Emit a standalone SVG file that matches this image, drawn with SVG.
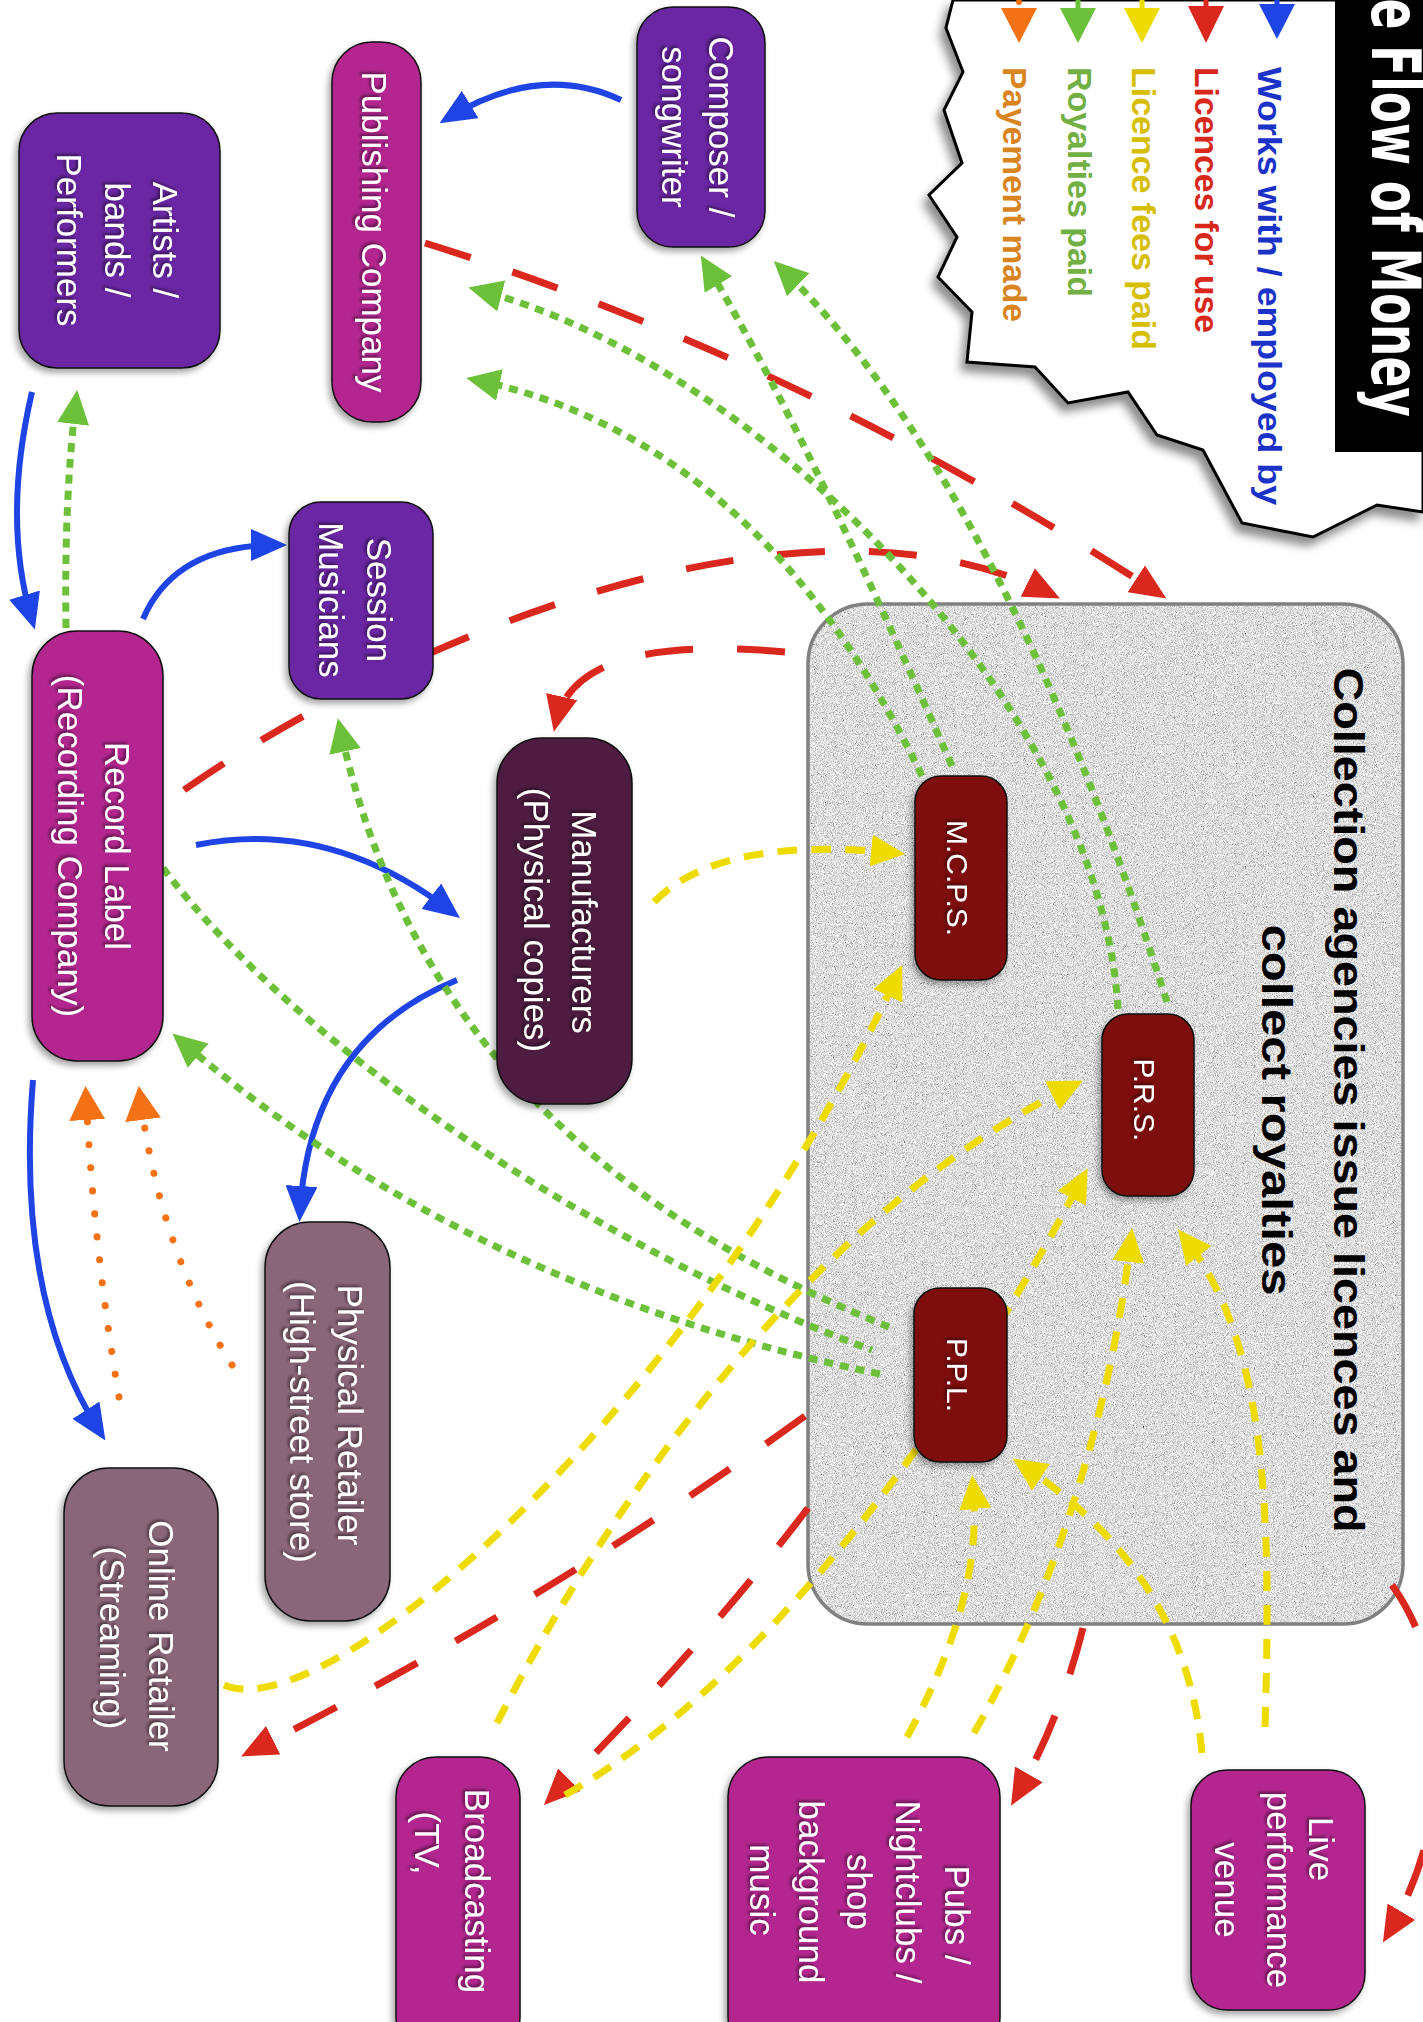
<svg xmlns="http://www.w3.org/2000/svg" width="1423" height="2022" viewBox="0 0 1423 2022">
<style>
.node{stroke:#111;stroke-width:1.5;filter:url(#shadow)}
.purple{fill:#6A27A3}.magenta{fill:#B3278F}.plum{fill:#4E1D41}.mauve{fill:#8A6679}.agency{fill:#7E0D0E}
.nt{font-family:"Liberation Sans",Arial,sans-serif;font-size:35px;fill:#fff;text-anchor:middle;filter:url(#tshadow)}
.at{font-size:30px}
.lg{font-family:"Liberation Sans",Arial,sans-serif;font-weight:bold;font-size:33px}
.c{fill:none}
.blue{stroke:#1E44E6;stroke-width:6}
.red{stroke:#DA281E;stroke-width:7;stroke-dasharray:48 44}
.green{stroke:#6DC13A;stroke-width:7;stroke-dasharray:9 7}
.yellow{stroke:#EEDC00;stroke-width:7;stroke-dasharray:20 14}
.orange{stroke:#F47215;stroke-width:7;stroke-linecap:round;stroke-dasharray:0.1 23}
</style>
<defs>
<filter id="shadow" x="-20%" y="-20%" width="140%" height="140%">
<feDropShadow dx="-3" dy="4" stdDeviation="3" flood-color="#000" flood-opacity="0.35"/>
</filter>
<filter id="tshadow" x="-20%" y="-40%" width="140%" height="180%">
<feDropShadow dx="-2" dy="2" stdDeviation="1.5" flood-color="#000" flood-opacity="0.5"/>
</filter>
<filter id="lshadow" x="-10%" y="-10%" width="120%" height="130%">
<feDropShadow dx="-5" dy="8" stdDeviation="5" flood-color="#000" flood-opacity="0.45"/>
</filter>
<filter id="noise" filterUnits="objectBoundingBox" x="0" y="0" width="1" height="1">
<feTurbulence type="fractalNoise" baseFrequency="1.1" numOctaves="2" seed="5" result="n"/>
<feColorMatrix in="n" type="matrix" values="0.33 0.33 0.33 0 0 0.33 0.33 0.33 0 0 0.33 0.33 0.33 0 0 0 0 0 0 1" result="g"/>
<feComponentTransfer in="g" result="c">
<feFuncR type="linear" slope="2.6" intercept="-0.55"/>
<feFuncG type="linear" slope="2.6" intercept="-0.55"/>
<feFuncB type="linear" slope="2.6" intercept="-0.55"/>
</feComponentTransfer>
<feComposite in="c" in2="SourceAlpha" operator="in"/>
</filter>
<marker id="mb" viewBox="0 0 36 32" markerWidth="36" markerHeight="32" refX="26" refY="16" orient="auto" markerUnits="userSpaceOnUse"><path d="M0,0 L36,16 L0,32 z" fill="#1E44E6"/></marker>
<marker id="mr" viewBox="0 0 36 32" markerWidth="36" markerHeight="32" refX="26" refY="16" orient="auto" markerUnits="userSpaceOnUse"><path d="M0,0 L36,16 L0,32 z" fill="#DA281E"/></marker>
<marker id="mg" viewBox="0 0 34 32" markerWidth="34" markerHeight="32" refX="24" refY="16" orient="auto" markerUnits="userSpaceOnUse"><path d="M0,0 L34,16 L0,32 z" fill="#6DC13A"/></marker>
<marker id="my" viewBox="0 0 34 32" markerWidth="34" markerHeight="32" refX="24" refY="16" orient="auto" markerUnits="userSpaceOnUse"><path d="M0,0 L34,16 L0,32 z" fill="#EEDC00"/></marker>
<marker id="mo" viewBox="0 0 34 36" markerWidth="34" markerHeight="36" refX="24" refY="18" orient="auto" markerUnits="userSpaceOnUse"><path d="M0,0 L34,18 L0,36 z" fill="#F47215"/></marker>
</defs>
<rect width="1423" height="2022" fill="#fff"/>

<g id="legend">
<polygon points="953,0 946,28 963,72 944,110 962,163 929,195 957,237 938,277 972,312 967,362 1035,367 1068,403 1128,392 1157,435 1203,450 1242,523 1313,537 1377,505 1423,512 1423,0" fill="#fff" stroke="#000" stroke-width="3" stroke-linejoin="miter" filter="url(#lshadow)"/>
<rect x="1335" y="0" width="88" height="452" fill="#000"/>
<text transform="translate(1372,417) rotate(90)" text-anchor="end" font-family="'DejaVu Sans Condensed','DejaVu Sans',sans-serif" font-weight="bold" font-size="68" fill="#fff" textLength="482" lengthAdjust="spacingAndGlyphs">The Flow of Money</text>
<g>
<line x1="1277" y1="0" x2="1277" y2="8" stroke="#1E44E6" stroke-width="5"/><polygon points="1259,4 1295,4 1277,39" fill="#1E44E6"/>
<line x1="1206" y1="0" x2="1206" y2="8" stroke="#DA281E" stroke-width="5"/><polygon points="1188,6 1224,6 1206,43" fill="#DA281E"/>
<line x1="1142" y1="0" x2="1142" y2="8" stroke="#EEDC00" stroke-width="5"/><polygon points="1124,8 1160,8 1142,43" fill="#EEDC00"/>
<line x1="1078" y1="0" x2="1078" y2="8" stroke="#6DC13A" stroke-width="5"/><polygon points="1060,8 1096,8 1078,43" fill="#6DC13A"/>
<circle cx="1019" cy="2" r="3" fill="#F47215"/><polygon points="1001,8 1037,8 1019,43" fill="#F47215"/>
</g>
<text class="lg" transform="translate(1258,67) rotate(90)" fill="#1A32C8" textLength="438" lengthAdjust="spacingAndGlyphs">Works with / employed by</text>
<text class="lg" transform="translate(1195,67) rotate(90)" fill="#D8281C" textLength="266" lengthAdjust="spacingAndGlyphs">Licences for use</text>
<text class="lg" transform="translate(1132,67) rotate(90)" fill="#D6BE00" textLength="283" lengthAdjust="spacingAndGlyphs">Licence fees paid</text>
<text class="lg" transform="translate(1068,67) rotate(90)" fill="#72B043" textLength="230" lengthAdjust="spacingAndGlyphs">Royalties paid</text>
<text class="lg" transform="translate(1003,67) rotate(90)" fill="#D9851F" textLength="255" lengthAdjust="spacingAndGlyphs">Payement made</text>
</g>

<g id="collection-agencies">
<rect x="808" y="604" width="595" height="1020" rx="60" fill="#c4c4c4"/>
<rect x="808" y="604" width="595" height="1020" rx="60" fill="#c4c4c4" filter="url(#noise)"/>
<rect x="808" y="604" width="595" height="1020" rx="60" fill="none" stroke="#808080" stroke-width="3.5"/>
<text transform="translate(1334,1100) rotate(90)" text-anchor="middle" font-family="'Liberation Sans',Arial,sans-serif" font-weight="bold" font-size="42" fill="#000" textLength="865" lengthAdjust="spacingAndGlyphs">Collection agencies issue licences and</text>
<text transform="translate(1262,1110) rotate(90)" text-anchor="middle" font-family="'Liberation Sans',Arial,sans-serif" font-weight="bold" font-size="42" fill="#000" textLength="371" lengthAdjust="spacingAndGlyphs">collect royalties</text>
</g>

<g id="connectors" class="c">
<path class="blue" marker-end="url(#mb)" d="M621,100 Q540,62 448,118"/>
<path class="blue" marker-end="url(#mb)" d="M32,392 Q2,520 32,620"/>
<path class="blue" marker-end="url(#mb)" d="M143,619 Q175,545 277,545"/>
<path class="blue" marker-end="url(#mb)" d="M196,845 Q330,818 452,912"/>
<path class="blue" marker-end="url(#mb)" d="M457,980 Q310,1040 300,1212"/>
<path class="blue" marker-end="url(#mb)" d="M33,1080 Q15,1300 100,1432"/>

<path class="red" marker-end="url(#mr)" d="M425,243 Q800,360 1158,593"/>
<path class="red" marker-end="url(#mr)" d="M184,790 C400,640 800,470 1051,594"/>
<path class="red" marker-end="url(#mr)" d="M785,652 C650,640 570,660 556,722"/>
<path class="red" marker-end="url(#mr)" d="M805,1416 Q550,1600 250,1752"/>
<path class="red" marker-end="url(#mr)" d="M808,1508 Q700,1650 551,1798"/>
<path class="red" marker-end="url(#mr)" d="M1083,1628 Q1060,1720 1016,1797"/>
<path class="red" marker-end="url(#mr)" d="M1392,1585 C1460,1680 1450,1830 1388,1934"/>

<path class="green" marker-end="url(#mg)" d="M66,628 Q64,500 76,400"/>
<path class="green" marker-end="url(#mg)" d="M880,1374 Q470,1290 180,1040"/>
<path class="green" marker-end="url(#mg)" d="M889,1327 C700,1250 420,1100 340,728"/>
<path class="green" d="M163,868 C300,1050 600,1250 872,1350"/>
<path class="green" marker-end="url(#mg)" d="M922,776 Q760,440 476,380"/>
<path class="green" marker-end="url(#mg)" d="M952,766 Q800,420 706,264"/>
<path class="green" marker-end="url(#mg)" d="M1118,1009 C1100,700 750,360 478,290"/>
<path class="green" marker-end="url(#mg)" d="M1167,1002 Q1000,480 781,268"/>

<path class="yellow" marker-end="url(#my)" d="M654,902 Q720,835 895,853"/>
<path class="yellow" marker-end="url(#my)" d="M224,1685 C330,1730 700,1400 898,974"/>
<path class="yellow" marker-end="url(#my)" d="M497,1723 C600,1520 800,1220 1074,1085"/>
<path class="yellow" marker-end="url(#my)" d="M565,1795 C680,1730 880,1560 1083,1177"/>
<path class="yellow" marker-end="url(#my)" d="M907,1737 C960,1640 980,1560 973,1485"/>
<path class="yellow" marker-end="url(#my)" d="M974,1733 C1050,1600 1110,1420 1131,1238"/>
<path class="yellow" marker-end="url(#my)" d="M1202,1753 C1190,1620 1120,1530 1021,1464"/>
<path class="yellow" marker-end="url(#my)" d="M1265,1727 C1272,1500 1265,1340 1184,1237"/>

<path class="orange" marker-end="url(#mo)" d="M119,1397 Q94,1250 86,1096"/>
<path class="orange" marker-end="url(#mo)" d="M232,1365 Q160,1250 140,1096"/>
</g>

<g id="composer">
<rect class="node purple" x="637" y="7" width="128" height="240" rx="36"/>
<text class="nt" transform="translate(709,127) rotate(90)">Composer /</text>
<text class="nt" transform="translate(662,127) rotate(90)">songwriter</text>
</g>
<g id="publishing">
<rect class="node magenta" x="332" y="42" width="89" height="380" rx="40"/>
<text class="nt" transform="translate(362,232) rotate(90)">Publishing Company</text>
</g>
<g id="artists">
<rect class="node purple" x="19" y="113" width="201" height="255" rx="38"/>
<text class="nt" transform="translate(153,240) rotate(90)">Artists /</text>
<text class="nt" transform="translate(105,240) rotate(90)">bands /</text>
<text class="nt" transform="translate(57,240) rotate(90)">Performers</text>
</g>
<g id="session">
<rect class="node purple" x="289" y="502" width="144" height="197" rx="32"/>
<text class="nt" transform="translate(367,600) rotate(90)">Session</text>
<text class="nt" transform="translate(319,600) rotate(90)">Musicians</text>
</g>
<g id="record-label">
<rect class="node magenta" x="32" y="631" width="131" height="430" rx="45"/>
<text class="nt" transform="translate(105,846) rotate(90)">Record Label</text>
<text class="nt" transform="translate(58,846) rotate(90)">(Recording Company)</text>
</g>
<g id="manufacturers">
<rect class="node plum" x="497" y="738" width="135" height="366" rx="45"/>
<text class="nt" transform="translate(572,922) rotate(90)">Manufacturers</text>
<text class="nt" transform="translate(524,920) rotate(90)">(Physical copies)</text>
</g>
<g id="physical-retailer">
<rect class="node mauve" x="265" y="1222" width="125" height="399" rx="45"/>
<text class="nt" transform="translate(338,1415) rotate(90)">Physical Retailer</text>
<text class="nt" transform="translate(290,1422) rotate(90)">(High-street store)</text>
</g>
<g id="online-retailer">
<rect class="node mauve" x="64" y="1468" width="154" height="338" rx="45"/>
<text class="nt" transform="translate(149,1636) rotate(90)">Online Retailer</text>
<text class="nt" transform="translate(100,1638) rotate(90)">(Streaming)</text>
</g>
<g id="broadcasting">
<rect class="node magenta" x="396" y="1757" width="124" height="300" rx="40"/>
<text class="nt" transform="translate(465,1891) rotate(90)">Broadcasting</text>
<text class="nt" transform="translate(415,1843) rotate(90)" text-anchor="start">(TV,</text>
</g>
<g id="pubs">
<rect class="node magenta" x="728" y="1757" width="272" height="300" rx="40"/>
<text class="nt" transform="translate(945,1915) rotate(90)">Pubs /</text>
<text class="nt" transform="translate(896,1892) rotate(90)">Nightclubs /</text>
<text class="nt" transform="translate(847,1892) rotate(90)">shop</text>
<text class="nt" transform="translate(799,1892) rotate(90)">background</text>
<text class="nt" transform="translate(750,1890) rotate(90)">music</text>
</g>
<g id="live-venue">
<rect class="node magenta" x="1191" y="1770" width="174" height="240" rx="36"/>
<text class="nt" transform="translate(1309,1849) rotate(90)">Live</text>
<text class="nt" transform="translate(1267,1890) rotate(90)">performance</text>
<text class="nt" transform="translate(1215,1890) rotate(90)">venue</text>
</g>
<g id="mcps">
<rect class="node agency" x="915" y="776" width="92" height="204" rx="26"/>
<text class="nt at" transform="translate(947,878) rotate(90)">M.C.P.S.</text>
</g>
<g id="prs">
<rect class="node agency" x="1102" y="1014" width="92" height="182" rx="26"/>
<text class="nt at" transform="translate(1134,1100) rotate(90)">P.R.S.</text>
</g>
<g id="ppl">
<rect class="node agency" x="914" y="1288" width="93" height="174" rx="26"/>
<text class="nt at" transform="translate(947,1375) rotate(90)">P.P.L.</text>
</g>
</svg>
